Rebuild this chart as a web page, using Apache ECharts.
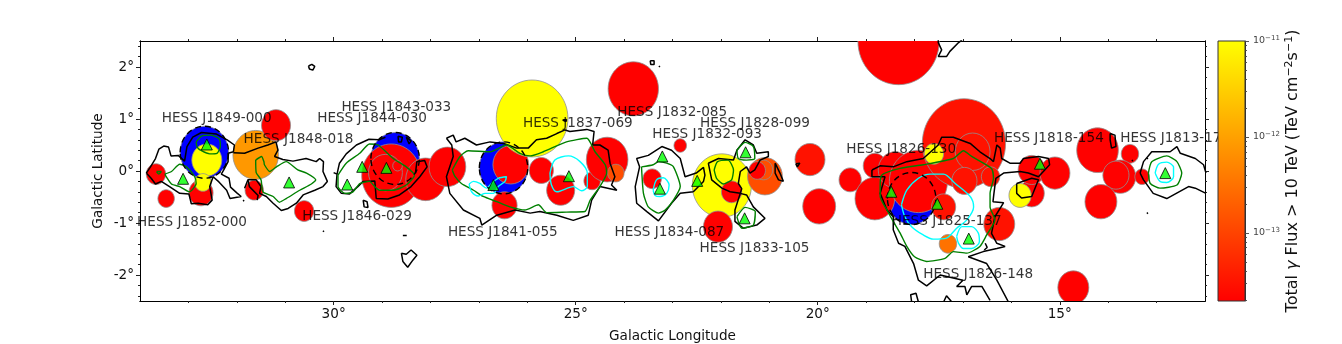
<!DOCTYPE html>
<html>
<head>
<meta charset="utf-8">
<style>
  html, body { margin: 0; padding: 0; background: #fff; }
  #chart { width: 1342px; height: 344px; }
</style>
<script src="https://cdn.jsdelivr.net/npm/echarts@6/dist/echarts.min.js"></script>
</head>
<body>
<div id="chart"></div>
<script>
// shell sources, drawn blue with a dashed edge
var blueLon = [32.67, 28.73, 26.49, 18.06]
var blueLat = [0.36, 0.24, 0.06, -0.53]
var blueRadius = [0.5, 0.5, 0.5, 0.5]

// flux circles, in draw order
var circleLon = [33.67, 33.46, 32.74, 32.62, 32.70, 31.61, 31.19, 31.64, 30.61, 28.81, 28.93, 28.68, 28.10, 27.65,
  26.34, 26.47, 25.90, 25.71, 25.31, 24.66, 24.35, 24.17, 23.81, 22.84, 23.42, 21.98, 21.78, 22.06, 21.09, 21.12, 21.25,
  20.16, 19.33, 19.97, 18.33, 18.82, 18.82, 18.40, 17.92, 16.98, 17.60, 16.80, 16.97, 16.43, 17.40, 17.31, 16.25, 14.72,
  15.58, 15.82, 15.58, 15.10, 14.22, 13.55, 13.75, 13.84, 14.15, 13.30]
var circleLat = [-0.06, -0.53, -0.42, 0.21, -0.22, 0.31, 0.88, -0.37, -0.77, -0.09, -0.03, 0.10, -0.16, 0.08,
  0.12, -0.66, 1.01, 0.01, -0.37, -0.19, 0.22, -0.04, 1.58, 0.49, -0.15, -0.28, -0.40, -1.07, -0.10, 0.02, 0.01,
  0.22, -0.17, -0.68, 2.50, 0.10, -0.53, 0.02, -0.20, 0.53, 0.33, 0.37, -0.19, -0.11, -0.69, -1.40, -1.02, -2.24,
  -0.43, -0.47, 0.02, -0.04, 0.40, 0.33, -0.11, -0.08, -0.59, -0.11]
var circleRadius = [0.20, 0.17, 0.25, 0.31, 0.17, 0.47, 0.30, 0.19, 0.20, 0.61, 0.35, 0.10, 0.41, 0.38,
  0.37, 0.26, 0.74, 0.25, 0.29, 0.17, 0.43, 0.17, 0.52, 0.13, 0.19, 0.61, 0.21, 0.30, 0.36, 0.19, 0.17,
  0.31, 0.23, 0.34, 0.84, 0.24, 0.41, 0.35, 0.60, 0.86, 0.20, 0.36, 0.26, 0.19, 0.25, 0.18, 0.32, 0.32,
  0.26, 0.23, 0.28, 0.31, 0.43, 0.18, 0.32, 0.27, 0.33, 0.15]
var circleFlux = [2e-14, 2e-14, 2e-14, 1.2e-11, 1.2e-11, 8e-13, 2e-14, 2e-14, 2e-14, 2e-14, 2e-14, 2e-14, 2e-14, 2e-14,
  2e-14, 2e-14, 1.2e-11, 2e-14, 2e-14, 2e-14, 2e-14, 1.3e-13, 2e-14, 2e-14, 2e-14, 1.2e-11, 2e-14, 2e-14, 1.3e-13, 1.3e-13, 2e-14,
  3e-14, 2e-14, 2e-14, 2e-14, 2e-14, 2e-14, 2e-14, 2e-14, 3e-14, 1.2e-11, 3e-14, 3e-14, 3e-14, 3e-14, 3.2e-13, 3e-14, 2e-14,
  2e-14, 1.2e-11, 2e-14, 2e-14, 2e-14, 2e-14, 2e-14, 2e-14, 2e-14, 2e-14]

// source positions
var triLon = [33.11, 32.62, 30.92, 29.72, 29.41, 28.91, 26.70, 25.14, 23.21, 23.26, 22.49, 21.49, 21.51, 18.48, 17.53, 16.88, 15.41, 12.82]
var triLat = [-0.15, 0.51, -0.22, -0.26, 0.08, 0.06, -0.27, -0.10, 0.28, -0.34, -0.19, 0.36, -0.91, -0.40, -0.63, -1.30, 0.14, -0.04]

var labelNames = ['HESS J1849-000', 'HESS J1848-018', 'HESS J1843-033', 'HESS J1844-030', 'HESS J1846-029', 'HESS J1852-000',
  'HESS J1837-069', 'HESS J1832-085', 'HESS J1832-093', 'HESS J1828-099', 'HESS J1841-055', 'HESS J1834-087', 'HESS J1833-105',
  'HESS J1826-130', 'HESS J1818-154', 'HESS J1813-178', 'HESS J1825-137', 'HESS J1826-148']
var labelLon = [33.55, 31.86, 29.84, 30.34, 30.65, 34.06, 26.09, 24.14, 23.42, 22.43, 27.64, 24.20, 22.44, 19.41, 16.36, 13.75, 18.47, 17.82]
var labelLat = [1.01, 0.61, 1.22, 1.01, -0.88, -0.99, 0.91, 1.12, 0.71, 0.91, -1.18, -1.18, -1.49, 0.42, 0.62, 0.62, -0.97, -1.99]

// black contours [lon, lat]
var blackContours = [
  [[33.87,-0.04],[33.79,0.07],[33.68,0.24],[33.61,0.42],[33.51,0.48],[33.41,0.46],[33.36,0.29],[33.21,0.30],[33.08,0.19],[33.03,0.47],[32.91,0.65],[32.73,0.74],[32.42,0.71],[32.20,0.60],[32.05,0.50],[32.07,0.37],[32.18,0.34],[32.18,0.18],[32.27,0.02],[32.32,-0.06],[32.16,-0.14],[32.13,-0.31],[32.00,-0.42],[31.91,-0.49],[32.14,-0.53],[32.21,-0.37],[32.37,-0.21],[32.49,-0.11],[32.56,-0.30],[32.51,-0.56],[32.60,-0.65],[32.80,-0.62],[32.94,-0.63],[32.99,-0.44],[33.18,-0.43],[33.39,-0.30],[33.56,-0.20],[33.68,-0.25],[33.77,-0.14],[33.87,-0.04]],
  [[32.07,0.35],[31.84,0.34],[31.56,0.44],[31.36,0.50],[31.19,0.56],[31.15,0.40],[31.22,0.28],[31.05,0.22],[30.84,0.19],[30.57,0.24],[30.36,0.18],[30.29,0.24],[30.21,0.18],[30.22,-0.01],[30.13,-0.20],[30.22,-0.30],[30.39,-0.37],[30.63,-0.46],[30.77,-0.62],[30.94,-0.72],[31.08,-0.76],[31.25,-0.62],[31.39,-0.49],[31.53,-0.43],[31.50,-0.30],[31.60,-0.17],[31.77,-0.17],[31.84,-0.33]],
  [[31.77,-0.17],[31.74,-0.30],[31.56,-0.47],[31.58,-0.56]],
  [[30.52,2.02],[30.45,2.05],[30.39,2.01],[30.43,1.94],[30.50,1.96],[30.52,2.02]],
  [[31.87,-0.56],[31.85,-0.56],[31.85,-0.58],[31.87,-0.58],[31.87,-0.56]],
  [[30.22,-1.15],[30.20,-1.15],[30.20,-1.17],[30.22,-1.17],[30.22,-1.15]],
  [[28.57,-1.24],[28.49,-1.24]],
  [[28.60,-1.58],[28.50,-1.60],[28.40,-1.52],[28.28,-1.62],[28.36,-1.71],[28.47,-1.85],[28.57,-1.74],[28.60,-1.58]],
  [[29.39,-0.56],[29.31,-0.59],[29.29,-0.70],[29.37,-0.69],[29.39,-0.56]],
  [[30.00,-0.03],[29.93,-0.06],[29.95,-0.30],[29.84,-0.43],[29.67,-0.44],[29.50,-0.30],[29.39,-0.20],[29.15,-0.19],[29.12,-0.53],[28.88,-0.54],[28.64,-0.46],[28.40,-0.30],[28.22,-0.11],[28.07,0.08],[28.12,0.20],[28.28,0.18],[28.31,-0.04]],
  [[29.93,-0.06],[29.88,0.15],[29.74,0.33],[29.53,0.50],[29.27,0.61],[29.06,0.60],[28.93,0.65]],
  [[28.67,0.67],[28.58,0.65],[28.60,0.56],[28.66,0.56],[28.67,0.67]],
  [[28.50,0.65],[28.40,0.58],[28.44,0.52],[28.50,0.65]],
  [[27.67,0.63],[27.53,0.69],[27.47,0.56],[27.29,0.63],[27.05,0.50],[26.77,0.56],[26.49,0.53],[26.22,0.44],[25.98,0.44],[25.81,0.60],[25.60,0.63],[25.39,0.72],[25.22,0.79],[25.12,0.76],[24.77,0.80],[24.62,0.76],[24.65,0.50],[24.50,0.50],[24.33,0.40],[24.29,0.15],[24.19,-0.11],[24.26,-0.27],[24.15,-0.37],[24.50,-0.30],[24.67,-0.56],[24.74,-0.85],[25.05,-0.95],[25.39,-0.85],[25.74,-0.78],[25.94,-0.81],[26.25,-0.75],[26.63,-0.85],[26.94,-1.04],[26.98,-0.91],[27.32,-0.75],[27.60,-0.43],[27.67,-0.11],[27.53,0.28],[27.56,0.50],[27.67,0.63]],
  [[25.27,0.98],[25.19,0.99],[25.20,0.95],[25.27,0.98]],
  [[22.57,-0.40],[22.84,-0.43],[23.02,-0.62],[23.29,-0.96],[23.53,-0.78],[23.74,-0.62],[23.77,-0.30],[23.68,0.08],[23.74,0.24],[23.50,0.30],[23.22,0.47],[23.02,0.40],[22.84,0.24],[22.74,-0.11],[22.51,-0.04],[22.36,0.07],[22.33,-0.08],[22.36,-0.20],[22.57,-0.40]],
  [[22.26,0.15],[22.05,0.24],[21.74,0.21],[21.67,0.40],[21.50,0.60],[21.33,0.50],[21.26,0.34],[21.02,0.37],[21.02,0.28],[21.19,0.21],[21.30,0.02],[21.40,-0.04],[21.47,0.08],[21.60,-0.01],[21.64,-0.24],[21.57,-0.34],[21.60,-0.43],[21.81,-0.40],[21.98,-0.33],[22.19,-0.17],[22.26,0.15]],
  [[21.60,-0.43],[21.47,-0.46],[21.33,-0.69],[21.09,-0.91],[21.26,-1.04],[21.54,-1.10],[21.71,-0.97],[21.71,-0.75],[21.60,-0.43]],
  [[20.88,0.15],[20.78,-0.04],[20.71,-0.20],[20.81,-0.17],[20.88,-0.04],[20.88,0.15]],
  [[23.46,2.12],[23.38,2.12],[23.38,2.05],[23.45,2.05],[23.46,2.12]],
  [[23.28,2.02],[23.26,2.02],[23.26,2.00],[23.28,2.00],[23.28,2.02]],
  [[17.51,2.52],[17.51,2.47],[17.44,2.33],[17.51,2.20],[17.34,2.20],[17.27,2.30],[17.09,2.47],[17.02,2.52]],
  [[20.45,0.14],[20.37,0.15],[20.35,0.12],[20.42,0.08],[20.45,0.14]],
  [[18.88,0.02],[18.71,0.10],[18.44,0.08],[18.16,0.18],[17.82,0.24],[17.51,0.50],[17.44,0.65],[17.20,0.65],[16.85,0.53],[16.65,0.37],[16.44,0.24],[16.37,0.18],[16.30,0.50],[16.23,0.44],[16.20,0.24],[16.03,0.15],[15.82,0.15],[15.75,0.24],[15.44,0.28],[15.23,0.24],[15.21,0.12],[15.44,-0.11],[15.65,-0.04],[15.82,-0.01],[16.16,-0.04],[16.32,-0.14],[16.36,-0.43],[16.38,-0.59],[16.16,-0.61],[16.34,-0.88],[16.41,-1.20],[16.30,-1.39],[16.13,-1.45],[16.30,-1.49],[16.58,-1.55],[16.89,-1.65],[16.51,-1.78],[16.30,-2.10],[16.06,-2.52]],
  [[18.88,0.02],[18.88,-0.11],[18.61,-0.11],[18.71,-0.43],[18.57,-0.75],[18.44,-0.88],[18.44,-1.13],[18.33,-1.39],[18.20,-1.45],[18.02,-1.78],[17.92,-2.10],[17.75,-2.21],[17.47,-2.00],[17.00,-2.10],[17.13,-2.22],[16.96,-2.22],[16.92,-2.38],[16.82,-2.22],[16.61,-2.22],[16.44,-2.49]],
  [[18.06,-2.52],[18.08,-2.38],[17.97,-2.35],[17.92,-2.52]],
  [[17.40,-2.52],[17.34,-2.40],[17.23,-2.52]],
  [[15.89,-0.24],[15.58,-0.14],[15.44,-0.17],[15.58,-0.49],[15.79,-0.52],[15.89,-0.43],[15.89,-0.24]],
  [[13.96,0.72],[13.86,0.69],[13.84,0.47],[13.93,0.44],[13.96,0.60],[13.96,0.72]],
  [[16.54,-1.39],[16.50,-1.47],[16.56,-1.52]],
  [[13.34,-0.04],[13.27,0.18],[13.10,0.37],[12.72,0.37],[12.58,0.47],[12.51,0.34],[12.20,0.24],[12.03,0.12],[11.98,-0.04]],
  [[11.98,-0.43],[12.20,-0.33],[12.34,-0.30],[12.79,-0.53],[13.07,-0.43],[13.27,-0.17],[13.34,-0.04]],
  [[13.51,0.21],[13.49,0.21],[13.49,0.19],[13.51,0.19],[13.51,0.21]],
  [[13.20,0.25],[13.18,0.25],[13.18,0.23],[13.20,0.23],[13.20,0.25]],
  [[13.20,-0.80],[13.18,-0.80],[13.18,-0.82],[13.20,-0.82],[13.20,-0.80]]
]

var greenContours = [
  [[33.49,-0.06],[33.35,-0.01],[33.18,0.13],[33.04,0.08],[32.87,-0.11],[32.84,-0.24],[32.98,-0.40],[33.18,-0.30],[33.35,-0.25],[33.49,-0.06]],
  [[33.66,-0.01],[33.56,-0.01],[33.61,-0.06],[33.66,-0.01]],
  [[32.84,0.56],[32.73,0.67],[32.53,0.69],[32.36,0.61],[32.34,0.47],[32.41,0.34],[32.56,0.33],[32.73,0.39],[32.82,0.46],[32.84,0.56]],
  [[31.61,0.21],[31.49,0.28],[31.44,0.18],[31.43,0.12],[31.32,-0.01],[31.18,0.08],[30.98,0.18],[30.74,0.02],[30.56,-0.04],[30.37,-0.17],[30.46,-0.25],[30.70,-0.37],[30.98,-0.53],[31.12,-0.60],[31.25,-0.49],[31.46,-0.40],[31.50,-0.17],[31.60,-0.03],[31.61,0.21]],
  [[29.91,-0.08],[29.74,0.15],[29.46,0.34],[29.26,0.52],[29.08,0.50],[28.77,0.24],[28.50,0.08],[28.33,-0.08],[28.50,-0.27],[28.77,-0.37],[29.05,-0.37],[29.15,-0.30],[29.26,-0.20],[29.46,-0.24],[29.60,-0.40],[29.77,-0.43],[29.91,-0.30],[29.91,-0.08]],
  [[27.55,0.02],[27.39,0.28],[27.22,0.39],[26.77,0.37],[26.43,0.50],[26.15,0.34],[25.94,0.29],[25.67,0.37],[25.19,0.56],[24.77,0.63],[24.60,0.37],[24.39,0.12],[24.36,-0.04],[24.50,-0.30],[24.70,-0.56],[24.81,-0.78],[25.19,-0.79],[25.60,-0.80],[25.77,-0.65],[26.05,-0.75],[26.36,-0.69],[26.63,-0.59],[26.91,-0.49],[27.11,-0.37],[27.36,-0.24],[27.49,-0.11],[27.55,0.02]],
  [[23.64,0.08],[23.40,0.12],[23.29,0.18],[23.12,0.15],[22.98,0.08],[22.84,-0.30],[22.98,-0.56],[23.15,-0.75],[23.29,-0.81],[23.50,-0.69],[23.60,-0.43],[23.64,0.08]],
  [[22.14,0.02],[22.07,0.18],[21.85,0.21],[21.74,0.02],[21.78,-0.17],[21.95,-0.25],[22.09,-0.14],[22.14,0.02]],
  [[21.67,0.40],[21.50,0.55],[21.33,0.47],[21.30,0.24],[21.47,0.21],[21.64,0.24],[21.67,0.40]],
  [[21.67,-0.88],[21.50,-0.70],[21.29,-0.78],[21.33,-1.04],[21.57,-1.10],[21.67,-0.88]],
  [[18.71,-0.30],[18.68,-0.08],[18.30,0.05],[17.82,0.12],[17.20,0.24],[16.99,0.39],[16.82,0.28],[16.41,0.05],[16.37,-0.14],[16.44,-0.43],[16.44,-0.69],[16.34,-0.94],[16.51,-1.23],[16.65,-1.45],[16.92,-1.58],[17.20,-1.55],[17.37,-1.68],[17.75,-1.74],[18.00,-1.65],[18.16,-1.45],[18.30,-1.19],[18.44,-0.97],[18.57,-0.75],[18.71,-0.49],[18.71,-0.30]],
  [[13.17,-0.04],[13.10,0.18],[12.79,0.29],[12.58,0.18],[12.48,-0.04],[12.58,-0.27],[12.93,-0.33],[13.13,-0.24],[13.17,-0.04]]
]

var cyanContours = [
  [[27.20,-0.25],[27.11,-0.20],[26.98,-0.24],[26.84,-0.33],[26.74,-0.24],[26.60,-0.14],[26.43,-0.11],[26.46,-0.20],[26.60,-0.30],[26.70,-0.43],[26.87,-0.43],[27.01,-0.48],[27.15,-0.40],[27.20,-0.25]],
  [[25.53,-0.04],[25.43,0.21],[25.15,0.29],[24.91,0.18],[24.76,-0.04],[24.76,-0.30],[24.88,-0.38],[25.05,-0.30],[25.39,-0.40],[25.50,-0.27],[25.53,-0.04]],
  [[23.40,-0.37],[23.33,-0.17],[23.19,-0.13],[23.07,-0.27],[23.12,-0.43],[23.26,-0.49],[23.36,-0.47],[23.40,-0.37]],
  [[18.27,-0.65],[18.16,-0.37],[17.92,-0.14],[17.68,-0.06],[17.40,-0.06],[17.16,-0.24],[16.85,-0.49],[16.78,-0.69],[16.92,-0.94],[17.13,-1.10],[17.34,-1.29],[17.61,-1.31],[17.82,-1.23],[18.06,-1.07],[18.20,-0.88],[18.27,-0.65]],
  [[17.13,-1.26],[17.02,-1.07],[16.82,-1.07],[16.68,-1.20],[16.66,-1.36],[16.82,-1.49],[16.99,-1.49],[17.09,-1.39],[17.13,-1.26]],
  [[13.03,-0.04],[12.96,0.13],[12.79,0.17],[12.65,0.07],[12.65,-0.11],[12.79,-0.22],[12.93,-0.20],[13.03,-0.04]]
]

// axis ticks
var lonMajor = [15, 20, 25, 30]
var lonMinor = [13, 14, 16, 17, 18, 19, 21, 22, 23, 24, 26, 27, 28, 29, 31, 32, 33]
var latMajor = [-2, -1, 0, 1, 2]
var latMinor = [-2.4, -2.2, -1.8, -1.6, -1.4, -1.2, -0.8, -0.6, -0.4, -0.2, 0.2, 0.4, 0.6, 0.8, 1.2, 1.4, 1.6, 1.8, 2.2, 2.4]
var fluxExponents = [-13, -12, -11]
var fluxBottom = -13.71

var font = 'DejaVu Sans'
var logFluxMinor = []
fluxExponents.concat([-14]).forEach(function(e) {
  for (var m = 2; m < 10; m++) {
    var v = e + Math.log10(m)
    if (v > fluxBottom && v < -11) logFluxMinor.push(v)
  }
})

// same ramp as the colour bar: red at the bottom, yellow at the top
function fluxColor(flux) {
  var t = (Math.log10(flux) - fluxBottom) / (-11 - fluxBottom)
  t = Math.max(0, Math.min(1, t))
  return 'rgb(255,' + Math.round(t * 255) + ',0)'
}

function xAxisOf(position, ticks, len, extra) {
  return Object.assign({
    type: 'value', gridIndex: 0, position: position, inverse: true, min: 12, max: 34,
    axisLine: { show: true, onZero: false, lineStyle: { color: '#000', width: 1 } },
    axisTick: { show: true, length: len, customValues: ticks, lineStyle: { color: '#222' } },
    axisLabel: { show: false },
    splitLine: { show: false }
  }, extra || {})
}

function yAxisOf(position, ticks, len, extra) {
  return Object.assign({
    type: 'value', gridIndex: 0, position: position, min: -2.5, max: 2.5,
    axisLine: { show: true, onZero: false, lineStyle: { color: '#000', width: 1 } },
    axisTick: { show: true, length: len, customValues: ticks, lineStyle: { color: '#222' } },
    axisLabel: { show: false },
    splitLine: { show: false }
  }, extra || {})
}

function contourSeries(list, color, width, smooth) {
  return list.map(function(points) {
    return {
      type: 'line', xAxisIndex: 0, yAxisIndex: 0, data: points, showSymbol: false, silent: true,
      smooth: smooth, lineStyle: { color: color, width: width }, z: 4
    }
  })
}

function ellipseSeries(rows, styleOf, z) {
  return {
    type: 'custom', xAxisIndex: 0, yAxisIndex: 0, clip: true, silent: true, z: z,
    data: rows,
    renderItem: function(params, api) {
      var c = api.coord([api.value(0), api.value(1)])
      var s = api.size([api.value(2), api.value(2)])
      return { type: 'ellipse', shape: { cx: c[0], cy: c[1], rx: s[0], ry: s[1] }, style: styleOf(params.dataIndex) }
    }
  }
}

var blueRows = blueLon.map(function(v, i) { return [v, blueLat[i], blueRadius[i]] })
var circleRows = circleLon.map(function(v, i) { return [v, circleLat[i], circleRadius[i]] })

var chart = echarts.init(document.getElementById('chart'), null, { renderer: 'canvas' })
chart.setOption({
  animation: false,
  backgroundColor: '#fff',
  textStyle: { fontFamily: font },
  grid: [
    { left: 140, top: 41, width: 1065, height: 260, outerBoundsMode: 'none' },
    { left: 1218, top: 41, width: 27, height: 260, outerBoundsMode: 'none' }
  ],
  xAxis: [
    xAxisOf('bottom', lonMajor, 4, {
      name: 'Galactic Longitude', nameLocation: 'middle', nameGap: 28,
      nameTextStyle: { fontFamily: font, fontSize: 13.6, color: '#111' },
      axisLabel: {
        show: true, customValues: lonMajor, margin: 6, fontFamily: font, fontSize: 13.6, color: '#111',
        formatter: function(v) { return v + '°' }
      }
    }),
    xAxisOf('bottom', lonMinor, 2),
    xAxisOf('top', lonMajor, 4),
    xAxisOf('top', lonMinor, 2),
    { type: 'value', gridIndex: 1, min: 0, max: 1, show: false }
  ],
  yAxis: [
    yAxisOf('left', latMajor, 4, {
      name: 'Galactic Latitude', nameLocation: 'middle', nameGap: 35, nameRotate: 90, nameMoveOverlap: false,
      nameTextStyle: { fontFamily: font, fontSize: 13.6, color: '#111' },
      axisLabel: {
        show: true, customValues: latMajor, margin: 6, fontFamily: font, fontSize: 13.6, color: '#111',
        formatter: function(v) { return v + '°' }
      }
    }),
    yAxisOf('left', latMinor, 2),
    yAxisOf('right', latMajor, 4),
    yAxisOf('right', latMinor, 2),
    {
      type: 'value', gridIndex: 1, position: 'right', min: fluxBottom, max: -11,
      axisLine: { show: true, onZero: false, lineStyle: { color: '#333', width: 1 } },
      axisTick: { show: true, length: 4, customValues: fluxExponents, lineStyle: { color: '#555' } },
      axisLabel: {
        show: true, customValues: fluxExponents, margin: 8, fontFamily: font, fontSize: 9.5, color: '#444',
        formatter: function(v) { return '10{sup|' + String(v).replace('-', '−') + '}' },
        rich: { sup: { fontFamily: font, fontSize: 7, color: '#444', verticalAlign: 'top', padding: [0, 0, 5, 0] } }
      },
      name: 'Total {g|γ} Flux > 10 TeV (TeV cm{s|−2}s{s|−1})',
      nameLocation: 'middle', nameGap: 38, nameRotate: 90,
      nameTextStyle: {
        fontFamily: font, fontSize: 16, color: '#111',
        rich: {
          g: { fontFamily: font, fontSize: 16, fontStyle: 'italic', color: '#111' },
          s: { fontFamily: font, fontSize: 11, color: '#111', verticalAlign: 'top', padding: [0, 0, 8, 0] }
        }
      },
      splitLine: { show: false }
    },
    {
      type: 'value', gridIndex: 1, position: 'right', min: fluxBottom, max: -11,
      axisLine: { show: false, onZero: false },
      axisTick: { show: true, length: 2, customValues: logFluxMinor, lineStyle: { color: '#555' } },
      axisLabel: { show: false },
      splitLine: { show: false }
    }
  ],
  series: [
    ellipseSeries(blueRows, function() {
      return { fill: '#0000ff', stroke: '#909090', lineWidth: 0.8 }
    }, 1),
    ellipseSeries(circleRows, function(i) {
      return { fill: fluxColor(circleFlux[i]), stroke: '#909090', lineWidth: 0.8 }
    }, 2),
    ellipseSeries(blueRows, function() {
      return { fill: 'none', stroke: '#000', lineWidth: 1.4, lineDash: [6, 4] }
    }, 5)
  ].concat(
    contourSeries(blackContours, '#000', 1.5, false),
    contourSeries(greenContours, '#008000', 1.4, 0.2),
    contourSeries(cyanContours, '#00ffff', 1.4, 0.3),
    [
      {
        type: 'scatter', xAxisIndex: 0, yAxisIndex: 0, symbol: 'triangle', symbolSize: 11, silent: true, z: 6,
        data: triLon.map(function(v, i) { return [v, triLat[i]] }),
        itemStyle: { color: '#00ff00', borderColor: '#000', borderWidth: 1 }
      },
      {
        type: 'scatter', xAxisIndex: 0, yAxisIndex: 0, symbolSize: 0, silent: true, clip: false, z: 7,
        data: labelLon.map(function(v, i) { return [v, labelLat[i], labelNames[i]] }),
        label: {
          show: true, position: 'right', distance: 0, fontFamily: font, fontSize: 13.6, color: '#000',
          formatter: function(p) { return p.data[2] }
        },
        labelLayout: { hideOverlap: false }
      },
      {
        // colour bar
        type: 'custom', xAxisIndex: 4, yAxisIndex: 4, silent: true, z: 10, zlevel: 1,
        data: [[0, fluxBottom, 1, -11]],
        renderItem: function(params, api) {
          var a = api.coord([api.value(0), api.value(3)])
          var b = api.coord([api.value(2), api.value(1)])
          return {
            type: 'rect',
            shape: { x: a[0], y: a[1], width: b[0] - a[0], height: b[1] - a[1] },
            style: {
              stroke: '#333', lineWidth: 1,
              fill: new echarts.graphic.LinearGradient(0, 0, 0, 1, [
                { offset: 0, color: '#ffff00' }, { offset: 1, color: '#ff0000' }
              ])
            }
          }
        }
      }
    ]
  )
})
</script>
</body>
</html>
